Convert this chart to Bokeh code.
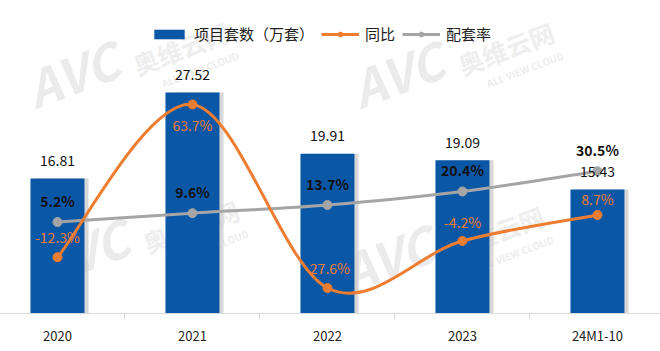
from bokeh.plotting import figure
from bokeh.models import Range1d, FixedTicker, Legend, LegendItem, ColumnDataSource, Label
from bokeh.core.properties import value
from bokeh.transform import dodge
from bokeh.embed import file_html
from bokeh.resources import INLINE

# ---- data ----
categories = ["2020", "2021", "2022", "2023", "24M1-10"]
units = [16.81, 27.52, 19.91, 19.09, 15.43]      # 项目套数（万套）
yoy = [-12.3, 63.7, -27.6, -4.2, 8.7]            # 同比 (%)
rate = [5.2, 9.6, 13.7, 20.4, 30.5]              # 配套率 (%)

# ---- style ----
BLUE = "#0A57A6"
ORANGE = "#ED7D31"
GREY = "#A5A5A5"
FONT = "Noto Sans CJK SC"
yoy_label_offsets = [-20, 21, -20, -19, -16]
FRAME_BOTTOM = 313

xs = list(range(len(categories)))

src = ColumnDataSource(dict(
    x=xs, units=units, yoy=yoy, rate=rate,
    units_txt=[f"{v:.2f}" for v in units],
    yoy_txt=[f"{v:.1f}%" for v in yoy],
    rate_txt=[f"{v:.1f}%" for v in rate],
    yoy_off=yoy_label_offsets,
))

p = figure(width=660, height=351, output_backend="svg", toolbar_location=None,
           x_range=Range1d(-0.422, 4.467), y_range=Range1d(0, 38.98),
           y_axis_location=None,
           min_border_left=0, min_border_right=0, min_border_top=0, min_border_bottom=38)
p.extra_y_ranges = {"pct": Range1d(-40.3, 115.4)}
p.xgrid.visible = False
p.ygrid.visible = False
p.outline_line_color = None
p.background_fill_color = "white"
p.border_fill_color = "white"


# faint brand watermarks (decorative)
def watermark(x0, y0):
    ang = 0.36
    specs = [
        ("AVC", 0, 0, "50px", "bold italic", "#EBEBEB"),
        ("奥维云网", 100, -40, "25px", "bold", "#EEEEEE"),
        ("ALL VIEW CLOUD", 124, -32, "10px", "bold", "#EDEDED"),
    ]
    for txt, dx, dy, size, style, col in specs:
        p.add_layout(Label(x=x0 + dx, y=FRAME_BOTTOM - (y0 + dy), x_units="screen",
                           y_units="screen", text=txt, angle=ang,
                           text_font=FONT, text_font_size=size,
                           text_font_style=style, text_color=col,
                           level="underlay"))


for wx, wy in [(40, 122), (365, 122), (50, 300), (355, 306)]:
    watermark(wx, wy)

# bars with soft shadow
p.vbar(x=dodge("x", 0.03), top="units", width=0.4, source=src,
       fill_color="#C8C8C8", fill_alpha=0.7, line_color=None)
bars = p.vbar(x="x", top="units", width=0.4, source=src,
              fill_color=BLUE, line_color=None)


def smooth(xv, yv):
    n = len(xv)
    out = dict(x0=[], y0=[], x1=[], y1=[], cx0=[], cy0=[], cx1=[], cy1=[])
    for i in range(n - 1):
        a = max(i - 1, 0)
        d = min(i + 2, n - 1)
        out["x0"].append(xv[i]); out["y0"].append(yv[i])
        out["x1"].append(xv[i + 1]); out["y1"].append(yv[i + 1])
        out["cx0"].append(xv[i] + (xv[i + 1] - xv[a]) / 6)
        out["cy0"].append(yv[i] + (yv[i + 1] - yv[a]) / 6)
        out["cx1"].append(xv[i + 1] - (xv[d] - xv[i]) / 6)
        out["cy1"].append(yv[i + 1] - (yv[d] - yv[i]) / 6)
    return ColumnDataSource(out)


grey_line = p.bezier(x0="x0", y0="y0", x1="x1", y1="y1", cx0="cx0", cy0="cy0",
                     cx1="cx1", cy1="cy1", source=smooth(xs, rate),
                     line_color=GREY, line_width=3, y_range_name="pct")
orange_line = p.bezier(x0="x0", y0="y0", x1="x1", y1="y1", cx0="cx0", cy0="cy0",
                       cx1="cx1", cy1="cy1", source=smooth(xs, yoy),
                       line_color=ORANGE, line_width=3, y_range_name="pct")
grey_pts = p.scatter(x="x", y="rate", source=src, size=9, fill_color=GREY,
                     line_color=GREY, y_range_name="pct")
orange_pts = p.scatter(x="x", y="yoy", source=src, size=9, fill_color=ORANGE,
                       line_color=ORANGE, y_range_name="pct")

# labels
p.text(x="x", y="units", text="units_txt", source=src, text_align="center",
       text_baseline="middle", y_offset=-18, text_font=value(FONT),
       text_font_size="14px", text_color="#111111")
p.text(x="x", y="rate", text="rate_txt", source=src, text_align="center",
       text_baseline="middle", y_offset=-21, text_font=value(FONT),
       text_font_size="14px", text_font_style="bold", text_color="#111111",
       y_range_name="pct")
p.text(x="x", y="yoy", text="yoy_txt", source=src, text_align="center",
       text_baseline="middle", y_offset="yoy_off", text_font=value(FONT),
       text_font_size="14px", text_color=ORANGE, y_range_name="pct")

# x axis
ax = p.xaxis[0]
ax.ticker = FixedTicker(ticks=xs, minor_ticks=[0.5, 1.5, 2.5, 3.5])
ax.major_label_overrides = {i: c for i, c in enumerate(categories)}
ax.major_tick_line_color = None
ax.minor_tick_line_color = "#D9D9D9"
ax.minor_tick_in = 0
ax.minor_tick_out = 6
ax.axis_line_color = "#D9D9D9"
ax.major_label_standoff = 6
ax.major_label_text_font = FONT
ax.major_label_text_font_size = "13px"
ax.major_label_text_color = "#222222"

legend = Legend(items=[
    LegendItem(label="项目套数（万套）", renderers=[bars]),
    LegendItem(label="同比", renderers=[orange_line, orange_pts]),
    LegendItem(label="配套率", renderers=[grey_line, grey_pts]),
], orientation="horizontal", location=(150, 269))
legend.background_fill_alpha = 0
legend.border_line_color = None
legend.padding = 0
legend.margin = 0
legend.spacing = 7
legend.label_standoff = 6
legend.glyph_width = 38
legend.glyph_height = 12
legend.label_height = 16
legend.label_text_font = FONT
legend.label_text_font_size = "15px"
legend.label_text_color = "#222222"
p.add_layout(legend)

open("out.html", "w").write(file_html(p, INLINE))
